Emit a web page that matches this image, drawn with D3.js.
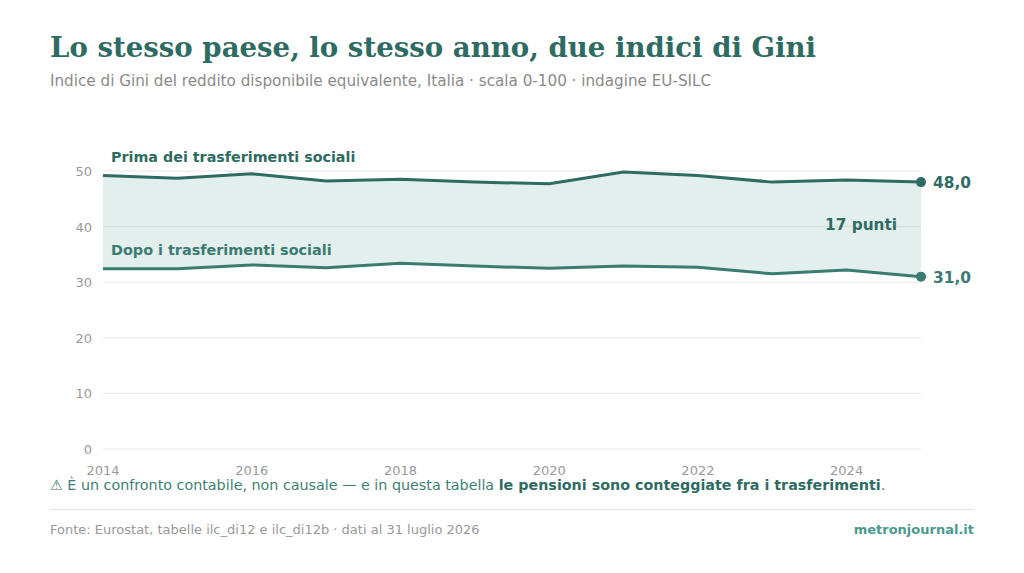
<!DOCTYPE html>
<html><head><meta charset="utf-8">
<script src="https://cdn.jsdelivr.net/npm/d3@7"></script>
<style>
body{margin:0;background:#fff;}
svg{display:block;font-family:"DejaVu Sans",sans-serif;}
</style></head>
<body><svg id="c" width="1024" height="573"></svg>
<script>
const years = [2014,2015,2016,2017,2018,2019,2020,2021,2022,2023,2024,2025];
const before = [49.2,48.7,49.5,48.2,48.5,48.0,47.7,49.8,49.2,48.0,48.4,48.0];
const after  = [32.4,32.4,33.1,32.6,33.4,32.9,32.5,32.9,32.7,31.5,32.2,31.0];
const yTicks = [0,10,20,30,40,50];
const xTicks = [2014,2016,2018,2020,2022,2024];

const svg = d3.select("#c");
const dark = "#2e6b62", mid = "#3a7b72";
const x = d3.scaleLinear().domain([2014,2025]).range([103,921]);
const y = d3.scaleLinear().domain([0,50]).range([449,171]);

svg.append("text").attr("x",50).attr("y",57).attr("fill",dark)
  .style("font-family","'DejaVu Serif',serif").style("font-weight","bold").style("font-size","27.6px")
  .text("Lo stesso paese, lo stesso anno, due indici di Gini");
svg.append("text").attr("x",50).attr("y",86).attr("fill","#8a8a8a").style("font-size","15.2px")
  .text("Indice di Gini del reddito disponibile equivalente, Italia · scala 0-100 · indagine EU-SILC");

// gridlines
svg.append("g").selectAll("line").data(yTicks).join("line")
  .attr("x1",103).attr("x2",921).attr("y1",d=>y(d)).attr("y2",d=>y(d))
  .attr("stroke","#e6e6e6").attr("stroke-width",1);
svg.append("g").selectAll("text").data(yTicks).join("text")
  .attr("x",92).attr("y",d=>y(d)+5).attr("text-anchor","end").attr("fill","#999").style("font-size","13px")
  .text(d=>d);
svg.append("g").selectAll("text").data(xTicks).join("text")
  .attr("x",d=>x(d)).attr("y",475).attr("text-anchor","middle").attr("fill","#999").style("font-size","13px")
  .text(d=>d);

const data = years.map((yr,i)=>({yr,b:before[i],a:after[i]}));
svg.append("path").datum(data)
  .attr("d",d3.area().x(d=>x(d.yr)).y0(d=>y(d.a)).y1(d=>y(d.b)))
  .attr("fill","#cfe5e1").attr("fill-opacity",0.6);
svg.append("line").attr("x1",103).attr("x2",921).attr("y1",y(40)).attr("y2",y(40))
  .attr("stroke","#d3dedb").attr("stroke-width",1);

svg.append("path").datum(data).attr("d",d3.line().x(d=>x(d.yr)).y(d=>y(d.b)))
  .attr("fill","none").attr("stroke",dark).attr("stroke-width",3);
svg.append("path").datum(data).attr("d",d3.line().x(d=>x(d.yr)).y(d=>y(d.a)))
  .attr("fill","none").attr("stroke",mid).attr("stroke-width",3);

const last = data[data.length-1];
svg.append("circle").attr("cx",x(last.yr)).attr("cy",y(last.b)).attr("r",5).attr("fill",dark);
svg.append("circle").attr("cx",x(last.yr)).attr("cy",y(last.a)).attr("r",5).attr("fill",mid);
const fmt = v=>v.toFixed(1).replace(".",",");
svg.append("text").attr("x",933).attr("y",y(last.b)+6).attr("fill",dark)
  .style("font-weight","bold").style("font-size","15.4px").text(fmt(last.b));
svg.append("text").attr("x",933).attr("y",y(last.a)+6).attr("fill",mid)
  .style("font-weight","bold").style("font-size","15.4px").text(fmt(last.a));

svg.append("text").attr("x",111).attr("y",162).attr("fill",dark)
  .style("font-weight","bold").style("font-size","14.3px").text("Prima dei trasferimenti sociali");
svg.append("text").attr("x",111).attr("y",255).attr("fill",mid)
  .style("font-weight","bold").style("font-size","14.4px").text("Dopo i trasferimenti sociali");
svg.append("text").attr("x",897).attr("y",230).attr("text-anchor","end").attr("fill",dark)
  .style("font-weight","bold").style("font-size","15.3px")
  .text(Math.round(last.b-last.a)+" punti");

const note = svg.append("text").attr("x",50).attr("y",490).attr("fill","#3d7f76").style("font-size","14.3px");
note.append("tspan").text("⚠ È un confronto contabile, non causale — e in questa tabella ");
note.append("tspan").attr("fill",dark).style("font-weight","bold").text("le pensioni sono conteggiate fra i trasferimenti");
note.append("tspan").text(".");

svg.append("line").attr("x1",50).attr("x2",974).attr("y1",509.5).attr("y2",509.5).attr("stroke","#e3e3e3");
svg.append("text").attr("x",50).attr("y",534).attr("fill","#999").style("font-size","13px")
  .text("Fonte: Eurostat, tabelle ilc_di12 e ilc_di12b · dati al 31 luglio 2026");
svg.append("text").attr("x",974).attr("y",534).attr("text-anchor","end").attr("fill","#4a9a8e")
  .style("font-weight","bold").style("font-size","13px").text("metronjournal.it");
</script></body></html>
